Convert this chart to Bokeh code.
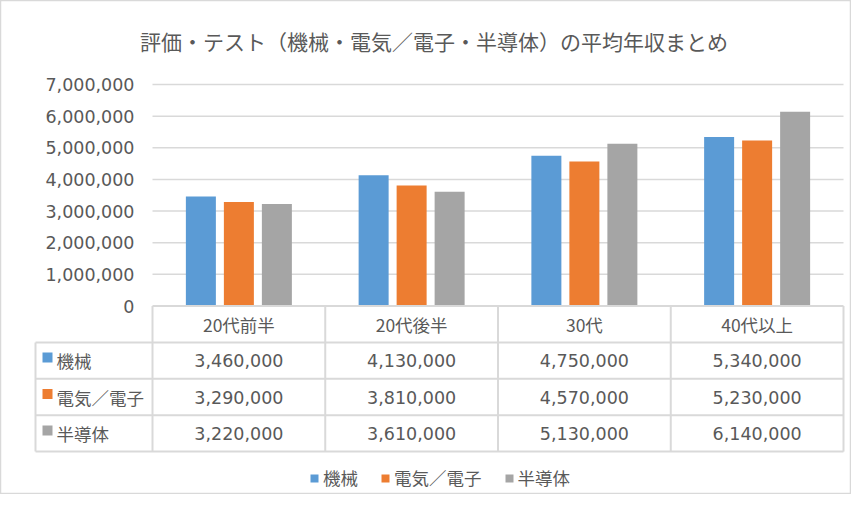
import numpy as np
from bokeh.plotting import figure
from bokeh.models import Range1d, Legend, LegendItem
from bokeh.core.properties import value
from bokeh.embed import file_html
from bokeh.resources import INLINE

# ---------------- data ----------------
title_text = "評価・テスト（機械・電気／電子・半導体）の平均年収まとめ"
categories = ["20代前半", "20代後半", "30代", "40代以上"]
series_names = ["機械", "電気／電子", "半導体"]
kikai = [3460000, 4130000, 4750000, 5340000]
denki_denshi = [3290000, 3810000, 4570000, 5230000]
handoutai = [3220000, 3610000, 5130000, 6140000]
y_ticks = [0, 1000000, 2000000, 3000000, 4000000, 5000000, 6000000, 7000000]

# ---------------- styles / layout ----------------
colors = ["#5B9BD5", "#ED7D31", "#A5A5A5"]
TXT = "#595959"
LINE = "#D9D9D9"
JP = value("Noto Sans CJK JP")
NUM = value("DejaVu Sans")

W, H = 851, 494
PLOT_L = 152.0               # left edge of plot area (px)
COL_W = 172.75               # width of one category column (px)
ZERO_Y = 305.5               # y of value 0 (px from top)
PX_PER_UNIT = 221.5 / 7e6    # px per value unit
ROW_H = 36.4
TABLE_L = 35.0


def X(px):
    return (px - PLOT_L) / COL_W


def Y(py):
    return (ZERO_Y - py) / PX_PER_UNIT


p = figure(width=W, height=H, output_backend="svg", toolbar_location=None,
           x_range=Range1d(X(0), X(W)), y_range=Range1d(Y(H), Y(0)),
           x_axis_location=None, y_axis_location=None, min_border=0,
           background_fill_color="white", border_fill_color="white")
p.grid.visible = False
p.outline_line_color = LINE
p.outline_line_width = 1.5

n = len(categories)
idx = np.arange(n) + 0.5

# grid lines
grid_vals = y_ticks[1:]
p.segment(x0=[0] * len(grid_vals), x1=[n] * len(grid_vals), y0=grid_vals, y1=grid_vals,
          line_color=LINE, line_width=1.5)

# bars
series = [kikai, denki_denshi, handoutai]
bw = 30 / COL_W
step = 38 / COL_W
renderers = []
for k, (vals, c) in enumerate(zip(series, colors)):
    r = p.vbar(x=idx + (k - 1) * step, top=vals, bottom=0, width=bw,
               fill_color=c, line_color=None)
    renderers.append(r)

# y tick labels
p.text(x=[X(134)] * len(y_ticks), y=y_ticks, text=[f"{t:,}" for t in y_ticks],
       text_align="right", text_baseline="middle", text_font=NUM,
       text_font_size="17.5px", text_color=TXT)

# title
p.text(x=[X(433.5)], y=[Y(40)], text=[title_text], text_align="center",
       text_baseline="middle", text_font=JP, text_font_size="21px", text_color=TXT)

# ---------------- data table ----------------
n_rows = len(series) + 1
bottom_py = ZERO_Y + n_rows * ROW_H
hx0, hx1, hy = [], [], []
for k in range(n_rows + 1):
    py = ZERO_Y + k * ROW_H
    hx0.append(0 if k == 0 else X(TABLE_L))
    hx1.append(n)
    hy.append(Y(py))
p.segment(x0=hx0, x1=hx1, y0=hy, y1=hy, line_color=LINE, line_width=2)
vx = list(range(n + 1)) + [X(TABLE_L)]
vy0 = [Y(ZERO_Y)] * (n + 1) + [Y(ZERO_Y + ROW_H)]
vy1 = [Y(bottom_py)] * (n + 2)
p.segment(x0=vx, x1=vx, y0=vy0, y1=vy1, line_color=LINE, line_width=2)

# header
p.text(x=idx, y=[Y(ZERO_Y + ROW_H / 2)] * n, text=categories, text_align="center",
       text_baseline="middle", text_font=JP, text_font_size="17.5px", text_color=TXT)

# rows
for r_i, (name, vals, c) in enumerate(zip(series_names, series, colors)):
    cy = ZERO_Y + (r_i + 1.5) * ROW_H
    p.text(x=idx, y=[Y(cy)] * n, text=[f"{v:,}" for v in vals], text_align="center",
           text_baseline="middle", text_font=NUM, text_font_size="17.5px", text_color=TXT)
    p.scatter(x=[X(47)], y=[Y(cy - 3)], marker="square", size=10,
              fill_color=c, line_color=None)
    p.text(x=[X(56)], y=[Y(cy)], text=[name], text_align="left",
           text_baseline="middle", text_font=JP, text_font_size="17.5px", text_color=TXT)

# legend
legend = Legend(items=[LegendItem(label=nm, renderers=[r]) for nm, r in zip(series_names, renderers)],
                orientation="horizontal", location=(309, 4),
                glyph_width=10, glyph_height=10, label_standoff=4, spacing=22,
                padding=0, margin=0, border_line_color=None, background_fill_alpha=0,
                label_text_font="Noto Sans CJK JP", label_text_font_size="17.5px",
                label_text_color=TXT)
p.add_layout(legend)

open("out.html", "w").write(file_html(p, INLINE))
